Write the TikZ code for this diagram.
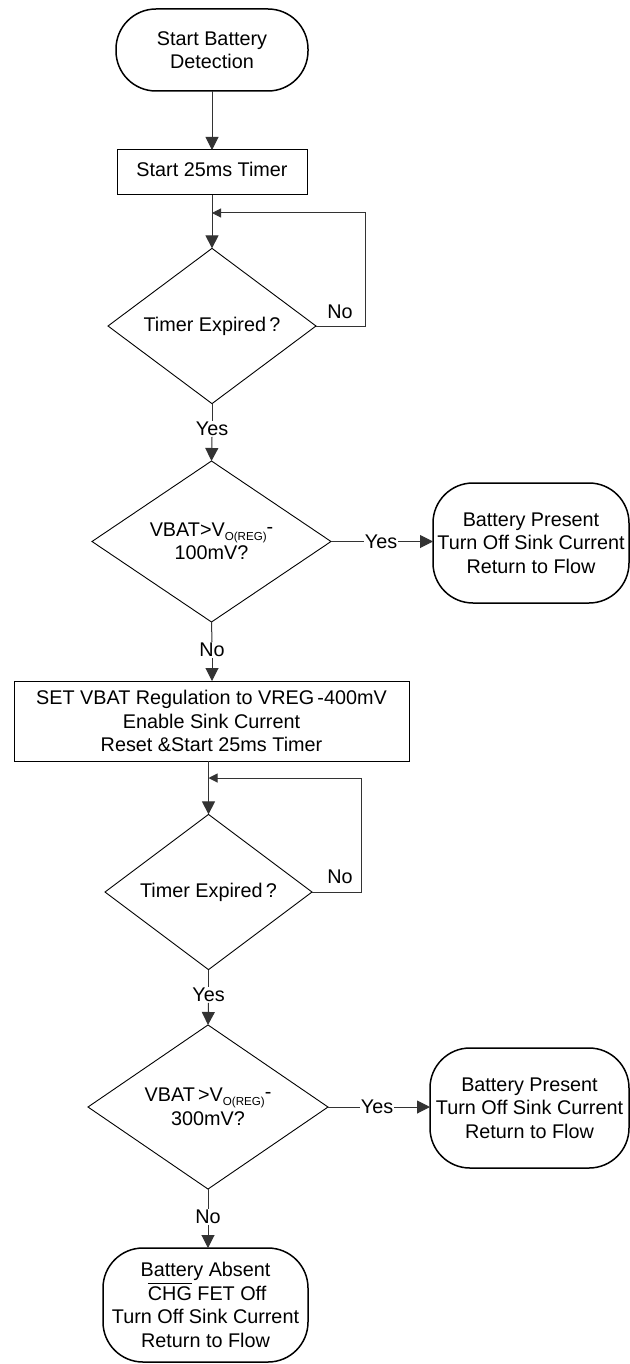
\documentclass[tikz,border=0pt]{standalone}
\usepackage{fontspec}
\setmainfont{Liberation Sans}
\usetikzlibrary{shapes.geometric,arrows.meta}
\newcommand{\vregsub}{V\raisebox{-2pt}{\fontsize{5.8}{6}\selectfont O(REG)}\raisebox{1.5pt}{-}}
\begin{document}
\begin{tikzpicture}[x=0.5pt,y=-0.5pt,
  every node/.style={font=\fontsize{9.9}{11.75}\selectfont, inner sep=0.5pt, outer sep=0pt, align=center},
  term/.style={draw, line width=0.75pt, rounded corners=20pt, inner sep=0pt},
  procbox/.style={draw, line width=0.5pt, inner sep=0pt},
  decision/.style={draw, diamond, line width=0.45pt, inner sep=0pt},
  conn/.style={draw=black!80, line width=0.5pt},
  arr/.style={conn, -{Triangle[length=6.5pt,width=6.5pt]}},
  sarr/.style={conn, -{Triangle[length=4.5pt,width=4.5pt]}},
]
\useasboundingbox[fill=white] (0,0) rectangle (630,1364);

\node[term, minimum width=96pt, minimum height=41pt] (start) at (212,50) {Start Battery\\Detection};
\node[procbox, minimum width=95pt, minimum height=22.5pt] (t1) at (212,172.5) {\raisebox{3pt}{Start 25ms Timer}};
\coordinate (j1) at (212,213);
\coordinate (c1) at (365,213);
\node[decision, minimum width=104pt, minimum height=75pt] (d1) at (212,326) {Timer Expired\,?};
\node (no1) at (340,312) {No};
\node (yes1) at (212,429) {Yes};
\node[decision, minimum width=119.5pt, minimum height=80.5pt] (d2) at (211.5,541.5) {VBAT>\vregsub\\100mV?};
\node (yes2) at (381,541.5) {Yes};
\node[term, minimum width=98pt, minimum height=60pt] (bp1) at (531,543) {Battery Present\\Turn Off Sink Current\\Return to Flow};
\node (no2) at (212,650) {No};
\node[procbox, minimum width=197.5pt, minimum height=40pt] (set) at (211.5,721) {SET VBAT Regulation to VREG\,-400mV\\Enable Sink Current\\Reset \&Start 25ms Timer};
\coordinate (j2) at (208.5,778);
\coordinate (c2) at (361,778);
\node[decision, minimum width=103.5pt, minimum height=75pt] (d3) at (208.5,892) {Timer Expired\,?};
\node (no3) at (340,877) {No};
\node (yes3) at (208.5,995) {Yes};
\node[decision, minimum width=120pt, minimum height=80pt] (d4) at (208,1107) {VBAT\,>\vregsub\\300mV?};
\node (yes4) at (377,1107) {Yes};
\node[term, minimum width=99.5pt, minimum height=60pt] (bp2) at (529.5,1108) {Battery Present\\Turn Off Sink Current\\Return to Flow};
\node (no4) at (208,1217) {No};
\node[term, minimum width=102.5pt, minimum height=57pt] (absent) at (205.5,1305) {Battery Absent\\\,$\overline{\mbox{CHG}}$ FET Off\\Turn Off Sink Current\\Return to Flow};

\draw[arr] (start) -- (t1);
\draw[conn] (t1) -- (j1);
\draw[arr] (j1) -- (d1.north);
\draw[sarr] (d1.east) -| (c1) -- (j1);
\draw[conn] (d1.south) -- (yes1.north);
\draw[arr] (yes1.south) -- (d2.north);
\draw[conn] (d2.east) -- (yes2.west);
\draw[arr] (yes2.east) -- (yes2.east -| bp1.west);
\draw[conn] (d2.south) -- (no2.north);
\draw[arr] (no2.south) -- (no2.south |- set.north);
\draw[conn] (set.south -| j2) -- (j2);
\draw[arr] (j2) -- (d3.north);
\draw[sarr] (d3.east) -| (c2) -- (j2);
\draw[conn] (d3.south) -- (yes3.north);
\draw[arr] (yes3.south) -- (d4.north);
\draw[conn] (d4.east) -- (yes4.west);
\draw[arr] (yes4.east) -- (yes4.east -| bp2.west);
\draw[conn] (d4.south) -- (no4.north);
\draw[arr] (no4.south) -- (no4.south |- absent.north);
\end{tikzpicture}
\end{document}
